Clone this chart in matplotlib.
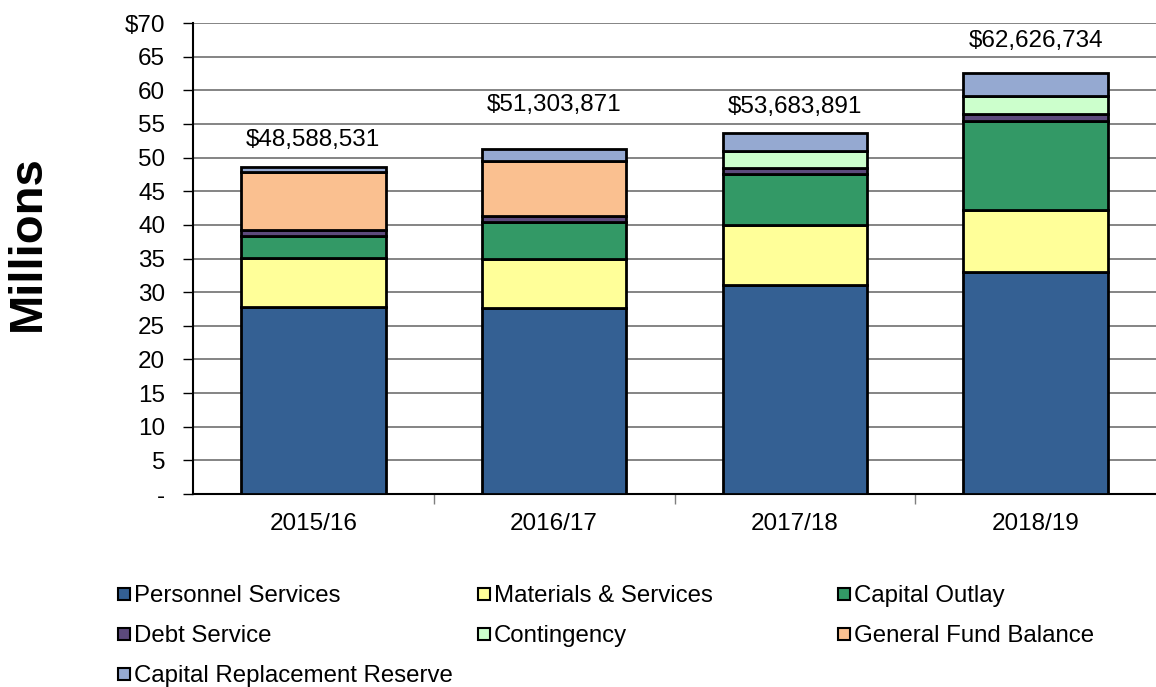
import matplotlib
matplotlib.use("Agg")
import matplotlib.pyplot as plt
from matplotlib.patches import Rectangle
import numpy as np

plt.rcParams['font.family'] = ['Liberation Sans', 'DejaVu Sans']

years = ["2015/16", "2016/17", "2017/18", "2018/19"]
personnel = [27.8, 27.6, 31.0, 33.0]
materials = [7.25, 7.3, 9.0, 9.2]
capital_outlay = [3.25, 5.55, 7.6, 13.2]
debt_service = [0.9, 0.85, 0.9, 1.1]
contingency = [0.0, 0.0, 2.5, 2.6]
general_fund = [8.65, 8.2, 0.0, 0.0]
cap_replacement = [0.74, 1.80, 2.68, 3.53]
totals = [48588531, 51303871, 53683891, 62626734]
yticks = [0, 5, 10, 15, 20, 25, 30, 35, 40, 45, 50, 55, 60, 65, 70]
ytick_labels = ["-", "5", "10", "15", "20", "25", "30", "35", "40", "45", "50", "55", "60", "65", r"\$70"]

series = [
    ("Personnel Services", personnel, "#346093"),
    ("Materials & Services", materials, "#FFFF99"),
    ("Capital Outlay", capital_outlay, "#339966"),
    ("Debt Service", debt_service, "#5C4A7C"),
    ("Contingency", contingency, "#CCFFCC"),
    ("General Fund Balance", general_fund, "#FAC090"),
    ("Capital Replacement Reserve", cap_replacement, "#95A9D1"),
]

W, H = 1156, 687
fig = plt.figure(figsize=(W / 100, H / 100), dpi=100)
ax = fig.add_axes([193 / W, 1 - 494 / H, (1156 - 193) / W, (494 - 23) / H])

x = np.arange(len(years))
bottom = np.zeros(len(years))
for name, vals, col in series:
    v = np.array(vals)
    mask = v > 0
    ax.bar(x[mask], v[mask], 0.6, bottom=bottom[mask], color=col,
           edgecolor="black", linewidth=2.0, zorder=3)
    bottom += v

label_offsets = [4.0, 6.5, 3.8, 4.7]
for i, t in enumerate(totals):
    ax.text(x[i], t / 1e6 + label_offsets[i], "\\$" + f"{t:,}", ha="center",
            va="center", fontsize=17.5, color="black", zorder=4)

ax.set_xlim(-0.5, len(years) - 0.5)
ax.set_ylim(0, 70)
ax.set_yticks(yticks)
ax.set_yticklabels(ytick_labels, fontsize=17.5)
ax.yaxis.grid(True, color="#6f6f6f", linewidth=1.2, zorder=0)
ax.set_axisbelow(True)

ax.set_xticks(np.arange(len(years) - 1) + 0.5)
ax.set_xticklabels([])
ax.set_xticks(x, minor=True)
ax.set_xticklabels(years, minor=True, fontsize=17.5)
ax.tick_params(axis="x", which="major", length=7, width=1, color="#7f7f7f", direction="out")
ax.tick_params(axis="x", which="minor", length=0, pad=14)
ax.tick_params(axis="y", length=7, width=1, color="black", direction="out", pad=13)

for s in ["top", "right"]:
    ax.spines[s].set_visible(False)
ax.spines["left"].set_color("black")
ax.spines["left"].set_linewidth(1.5)
ax.spines["bottom"].set_color("black")
ax.spines["bottom"].set_linewidth(1.5)

fig.text(28 / W, 1 - 243 / H, "Millions", rotation=90, fontsize=34,
         fontweight="bold", ha="center", va="center")

# legend laid out in rows like the reference
leg_cols = [118, 478, 838]
leg_rows = [594, 634, 674]
for k, (name, vals, col) in enumerate(series):
    r, c = divmod(k, 3)
    px, py = leg_cols[c], leg_rows[r]
    fig.patches.append(Rectangle((px / W, 1 - (py + 6) / H), 12 / W, 12 / H,
                                 transform=fig.transFigure, facecolor=col,
                                 edgecolor="black", linewidth=1.5))
    fig.text((px + 16) / W, 1 - (py + 2) / H, name, fontsize=17.3, ha="left", va="center")

fig.savefig("out.png", dpi=100)
